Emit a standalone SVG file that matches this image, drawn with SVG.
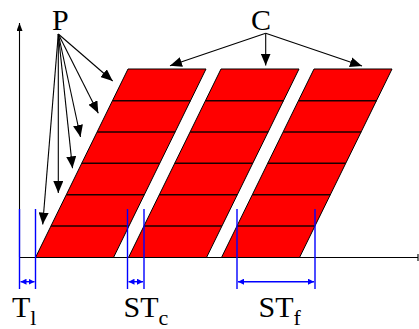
<svg xmlns="http://www.w3.org/2000/svg" width="419" height="329" viewBox="0 0 419 329">
<defs>
<style>
.blk{stroke:#000;stroke-width:1.1;fill:none}
.par{fill:#ff0000;stroke:#000;stroke-width:1}
.div{stroke:#1a0000;stroke-width:1.4}
.blue{stroke:#0000ff;stroke-width:1.4;fill:none}
text{font-size:30px;fill:#000}
tspan.sub{font-size:22px}
</style>
<marker id="ah" viewBox="0 0 12 10" refX="12" refY="5" markerWidth="12" markerHeight="10" markerUnits="userSpaceOnUse" orient="auto">
<path d="M0,0 L12,5 L0,10 z" fill="#000"/>
</marker>
<marker id="axh" viewBox="0 0 8 6" refX="8" refY="3" markerWidth="8" markerHeight="6" markerUnits="userSpaceOnUse" orient="auto">
<path d="M0,0 L8,3 L0,6 z" fill="#000"/>
</marker>
<marker id="bh" viewBox="0 0 6 6" refX="6" refY="3" markerWidth="6" markerHeight="6" markerUnits="userSpaceOnUse" orient="auto-start-reverse">
<path d="M0,0 L6,3 L0,6 z" fill="#0000ff"/>
</marker>
</defs>
<rect width="419" height="329" fill="#fff"/>

<g id="axes">
<line class="blk" x1="19.5" y1="257.5" x2="19.5" y2="23" marker-end="url(#axh)"/>
<line class="blk" x1="19.5" y1="257.5" x2="418" y2="257.5"/>
<line class="blk" x1="418" y1="254" x2="418" y2="261"/>
</g>

<g id="column1" transform="translate(35.5,0)">
<polygon class="par" points="0,257.5 78,257.5 170.5,69 92.5,69"/>
<line class="div" x1="15.4" y1="226" x2="93.4" y2="226"/>
<line class="div" x1="30.8" y1="194.7" x2="108.8" y2="194.7"/>
<line class="div" x1="46.2" y1="163.3" x2="124.2" y2="163.3"/>
<line class="div" x1="61.7" y1="132" x2="139.7" y2="132"/>
<line class="div" x1="77.1" y1="100.7" x2="155.1" y2="100.7"/>
</g>
<g id="column2" transform="translate(128.5,0)">
<polygon class="par" points="0,257.5 78,257.5 170.5,69 92.5,69"/>
<line class="div" x1="15.4" y1="226" x2="93.4" y2="226"/>
<line class="div" x1="30.8" y1="194.7" x2="108.8" y2="194.7"/>
<line class="div" x1="46.2" y1="163.3" x2="124.2" y2="163.3"/>
<line class="div" x1="61.7" y1="132" x2="139.7" y2="132"/>
<line class="div" x1="77.1" y1="100.7" x2="155.1" y2="100.7"/>
</g>
<g id="column3" transform="translate(221.5,0)">
<polygon class="par" points="0,257.5 78,257.5 170.5,69 92.5,69"/>
<line class="div" x1="15.4" y1="226" x2="93.4" y2="226"/>
<line class="div" x1="30.8" y1="194.7" x2="108.8" y2="194.7"/>
<line class="div" x1="46.2" y1="163.3" x2="124.2" y2="163.3"/>
<line class="div" x1="61.7" y1="132" x2="139.7" y2="132"/>
<line class="div" x1="77.1" y1="100.7" x2="155.1" y2="100.7"/>
</g>

<g id="labelP"><text x="52" y="30" font-family="Times New Roman, DejaVu Serif, serif">P</text></g>
<g id="labelC"><text x="251" y="30" font-family="Times New Roman, DejaVu Serif, serif">C</text></g>

<g id="connectors">
<line class="blk" x1="58.3" y1="34" x2="112.7" y2="81" marker-end="url(#ah)"/>
<line class="blk" x1="58.3" y1="34" x2="98.3" y2="113.3" marker-end="url(#ah)"/>
<line class="blk" x1="58.3" y1="34" x2="80.5" y2="137" marker-end="url(#ah)"/>
<line class="blk" x1="58.3" y1="34" x2="72.5" y2="168.3" marker-end="url(#ah)"/>
<line class="blk" x1="58.3" y1="34" x2="58.3" y2="193" marker-end="url(#ah)"/>
<line class="blk" x1="58.3" y1="34" x2="42.7" y2="224.5" marker-end="url(#ah)"/>
<line class="blk" x1="265.7" y1="33.3" x2="170" y2="65.8" marker-end="url(#ah)"/>
<line class="blk" x1="265.7" y1="33.3" x2="265.7" y2="65.5" marker-end="url(#ah)"/>
<line class="blk" x1="265.7" y1="33.3" x2="362" y2="66" marker-end="url(#ah)"/>
</g>

<g id="dimT1">
<line class="blue" x1="19.5" y1="209" x2="19.5" y2="289"/>
<line class="blue" x1="35.5" y1="209" x2="35.5" y2="289"/>
<line class="blue" x1="20.5" y1="281.7" x2="34.5" y2="281.7" marker-start="url(#bh)" marker-end="url(#bh)"/>
<text x="12" y="317" font-family="Times New Roman, DejaVu Serif, serif">T<tspan class="sub" dy="8">l</tspan></text>
</g>
<g id="dimSTc">
<line class="blue" x1="127.5" y1="209" x2="127.5" y2="289"/>
<line class="blue" x1="144" y1="209" x2="144" y2="289"/>
<line class="blue" x1="128.5" y1="281.7" x2="143" y2="281.7" marker-start="url(#bh)" marker-end="url(#bh)"/>
<text x="123.5" y="317" font-family="Times New Roman, DejaVu Serif, serif">ST<tspan class="sub" dy="8">c</tspan></text>
</g>
<g id="dimSTf">
<line class="blue" x1="237" y1="209" x2="237" y2="289"/>
<line class="blue" x1="315" y1="209" x2="315" y2="289"/>
<line class="blue" x1="238" y1="281.7" x2="314" y2="281.7" marker-start="url(#bh)" marker-end="url(#bh)"/>
<text x="258.5" y="317" font-family="Times New Roman, DejaVu Serif, serif">ST<tspan class="sub" dy="8">f</tspan></text>
</g>
</svg>
